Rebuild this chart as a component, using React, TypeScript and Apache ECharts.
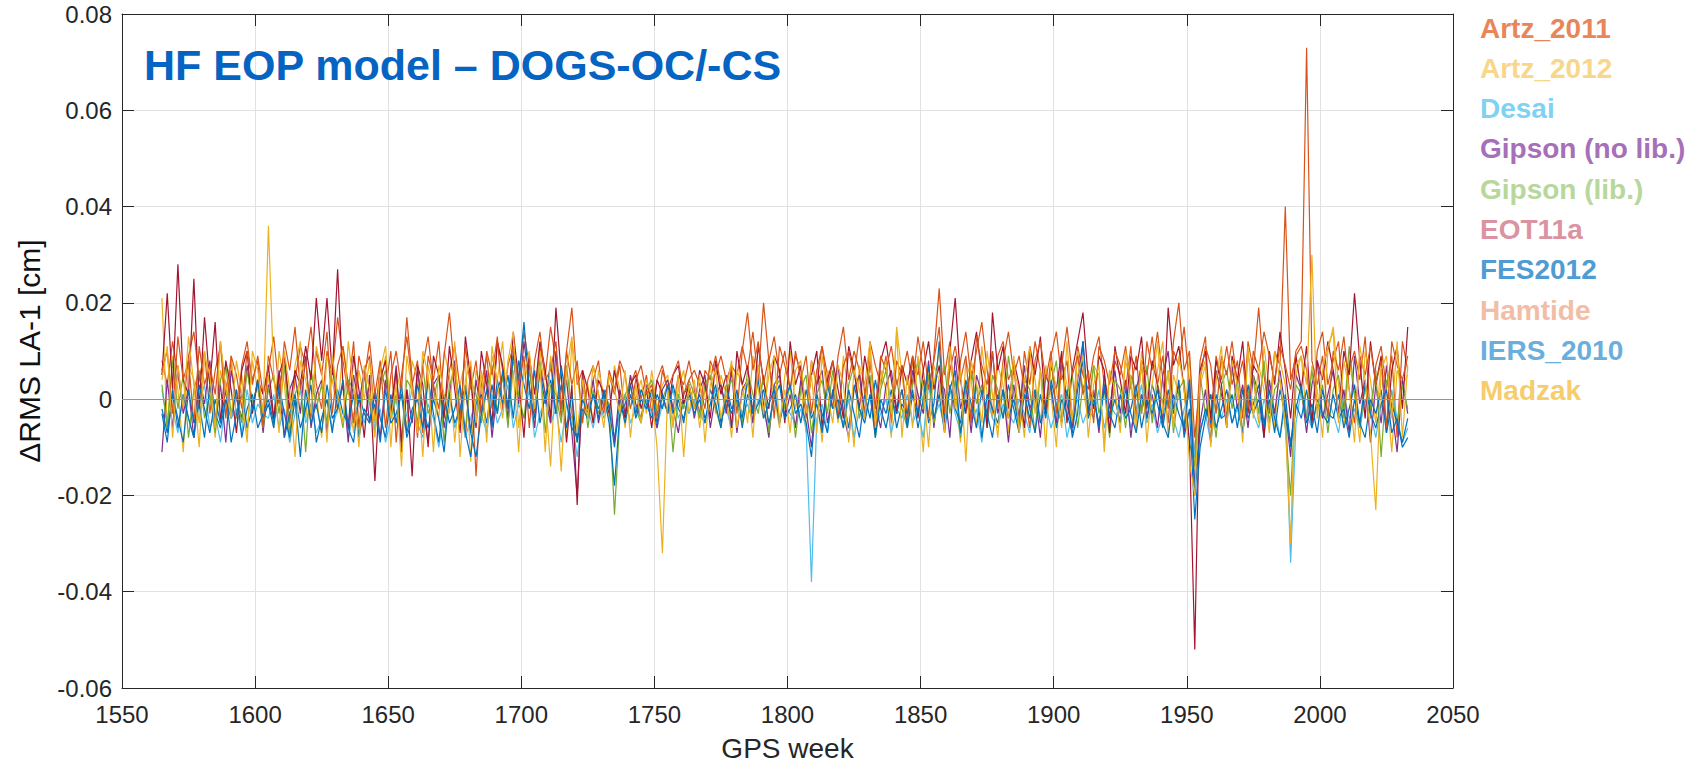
import React, { useEffect, useRef } from "react";
import * as echarts from "echarts";

// GPS weeks: first week and sampling step of the series below
const FIRST_WEEK = 1565;
const WEEK_STEP = 2;

// values in units of 0.001 cm
const artz2011 = [
  8, 3, 12, 5, -2, 9, 14, 4, 10, -3, 6, 11, 2, 8, -4, 7, 12, 3, 9, 1,
  6, 13, 2, 9, -5, 4, 11, 7, 15, 3, -2, 10, 5, 17, 8, 1, 12, -6, 6, 9,
  -4, 7, 2, 10, -9, 5, 13, 3, 8, -7, 9, 4, 12, -3, 6, 11, 2, -8, 7, -16,
  3, 9, -2, 12, 6, -5, 10, 4, 14, 7, -3, 11, 5, 15, 8, -4, 10, 19, 3, 6,
  -3, 4, 8, -2, 5, 1, 7, -4, 3, 6, 0, 5, -3, 4, 7, 2, -2, 5, 3, 8,
  2, -3, 6, 4, 9, 3, -2, 7, 5, 11, 6, 14, 4, 20, 8, 13, 5, 10, 2, 9,
  6, -4, 8, 3, 11, 5, -2, 9, 15, 4, 10, 6, -3, 12, 7, 3, 9, -5, 8, 5,
  10, 3, 13, 6, -4, 9, 23, 5, 12, -2, 8, 14, 4, 10, 16, 6, -3, 9, 12, 4,
  7, -5, 10, 3, 12, 6, -2, 9, 14, 4, 8, -6, 11, 5, 2, 9, 13, 3, -4, 8,
  5, 11, 2, 9, -3, 12, 6, 14, 4, -5, 10, 7, 15, 3, -12, 8, 13, -6, 9, 4,
  11, 3, 8, -4, 12, 6, 19, 5, -3, 10, 7, 40, 4, 9, 11, 6, -5, 10, 14, 3,
  8, 12, -2, 6, 10, 4, 13, -4, 7, 11, 2, 9, -8, 12, 6,
];
const artz2012 = [
  21, -6, 9, 2, -11, 7, 4, -5, 10, 3, -8, 6, 1, 9, -4, 5, -7, 8, 2, -3,
  5, -6, 10, 3, -9, 7, 12, -4, 6, 1, -8, 9, 4, -3, 11, 2, -7, 6, 0, 8,
  -5, 3, 9, -10, 6, 1, -6, 8, 4, -12, 7, 2, -4, 10, 5, -9, 3, 8, -13, 6,
  2, -7, 9, 4, 12, -5, 6, -11, 8, 3, -6, 10, 1, -14, 7, 4, -8, 12, 5, -4,
  3, -5, 6, 1, -4, 7, 2, -6, 5, 0, 4, -3, 6, -2, 3, 5, -5, 2, 6, -3,
  4, -6, 2, 7, -3, 5, 1, -8, 6, 3, -5, 9, 2, -4, 8, 1, -6, 5, 10, -2,
  3, -7, 8, 2, -9, 6, 4, -5, 9, 1, -10, 7, 3, 12, -4, 6, 2, -8, 15, 5,
  -3, 8, 1, -11, 6, 3, 10, -5, 7, 2, -9, 8, 4, -6, 11, 1, -4, 7, 3, -7,
  6, 2, -8, 9, 4, -5, 7, 1, -10, 8, 3, -6, 10, 2, -4, 7, 5, -9, 6, 1,
  -5, 8, 3, -7, 10, 2, -4, 6, 12, -8, 5, 1, -6, 9, -14, 3, 7, -9, 4, 8,
  -3, 6, 1, -7, 9, 4, -5, 11, 2, -6, 8, 3, -32, 5, 9, -4, 7, 2, -8, 10,
  15, 3, -6, 8, 1, -9, 10, 4, -5, 7, 2, -11, 6, 3, 5,
];
const desai = [
  2, -5, -2, -7, 1, -4, -8, -1, 3, -6, -3, -9, 0, -4, -2, -7, 2, -5, -1, -3,
  -4, 1, -6, -2, -9, -3, 2, -5, -1, -7, -4, 0, -6, -2, 3, -8, -3, -1, -5, 1,
  -6, -2, -9, -4, 0, -7, -3, 2, -5, -8, -1, -4, -10, -3, 1, -6, -2, -8, -4, 0,
  -3, -7, 1, -5, -2, 3, -6, -1, -4, 2, -8, -3, 0, -5, -2, -9, -1, -4, -12, -3,
  -2, -6, 0, -4, -1, -8, -3, 1, -5, -2, -4, 0, -3, -6, -1, -2, 2, -4, -1, -3,
  0, -3, -5, -1, 2, -4, -2, -6, 1, -3, -1, -5, 0, -2, -7, 3, -4, -1, -3, -5,
  -2, -6, -38, -4, -1, -7, 2, -3, -5, 0, -8, -2, -4, 1, -6, -3, 0, -7, -2, -4,
  1, -5, -2, -8, 3, -4, -1, -6, 2, -3, -7, 0, -5, -2, -9, 1, -4, -6, -1, -3,
  -5, 0, -3, -7, 2, -4, -1, -6, -2, 1, -8, -3, 0, -5, -2, -4, 2, -6, -1, -3,
  -4, 0, -6, -2, 3, -5, -1, -7, -3, 0, -4, -8, -2, 1, -12, -6, -3, -9, -1, -4,
  0, -5, -2, -7, 1, -3, -6, 0, -4, -2, -8, -1, -34, -5, 2, -3, -6, -1, -4, 0,
  -3, -7, 1, -4, -2, -6, 0, -3, -8, -1, -5, 2, -4, -9, -6,
];
const gipsonNoLib = [
  -11, 4, -6, 7, -3, 2, -8, 5, -1, 8, -5, 3, -9, 6, 0, -4, 7, -2, 4, -7,
  3, -4, 6, -8, 2, 5, -3, 9, -6, 1, 4, -7, 7, -2, 3, -9, 5, -1, 6, -5,
  1, -8, 4, -3, 7, -11, 2, -5, 6, -2, -9, 3, 5, -6, 1, 8, -4, 2, -7, 4,
  -3, 6, -8, 2, 5, -4, 9, -1, 12, 3, -6, 7, 1, -5, 10, -2, 4, -7, -20, 3,
  -2, 4, -5, 1, 3, -9, 2, -3, 5, -1, -4, 3, 0, -6, 2, 4, -2, -7, 1, 3,
  -4, 2, 5, -6, 1, 3, -3, 6, -7, 2, 4, -5, 7, -1, -8, 3, 5, -4, 1, -6,
  4, -2, -10, 3, 6, -5, 1, 7, -3, -8, 2, 5, -4, 8, -1, -6, 3, 6, -2, 2,
  -5, 6, 1, -3, 8, -6, 4, 2, -8, 9, -2, 3, -7, 5, 1, -4, 10, -3, 2, -9,
  3, -4, 7, -2, 1, -8, 5, 2, -5, 9, -1, -6, 4, 12, -3, 2, -7, 5, -2, 6,
  -3, 4, -8, 2, 7, -4, 1, -6, 5, 10, -2, 3, -7, 4, -18, -5, 2, -9, 6, 1,
  -4, 7, -2, 3, -6, 5, 1, -8, 4, -3, 6, -2, -12, 5, 2, -7, 3, 8, -4, 1,
  6, -3, 2, -7, 9, -1, 4, -9, 3, -5, 7, -2, -11, 4, -3,
];
const gipsonLib = [
  3, -6, 8, -2, 5, -8, 2, 6, -4, 1, -7, 4, 7, -3, 2, -5, 6, -1, 3, -6,
  2, 5, -3, 7, -7, 1, 4, -11, 6, -2, 3, -5, 8, 0, -6, 4, 2, -8, 5, -1,
  -7, 3, 6, -4, 1, -8, 4, 2, -5, 7, -3, 0, 5, -9, 3, 6, -2, -6, 4, 1,
  -5, 2, 7, -3, 5, -6, 9, 1, -4, 6, -2, 8, -7, 3, 1, -5, 7, -3, -9, 4,
  -6, 2, -3, 1, -1, -24, -4, 1, 3, -2, -5, 2, 4, -3, 0, 3, -11, 1, -2, 4,
  1, -4, 3, 5, -2, -6, 2, 4, -1, -5, 6, 1, -3, 5, -7, 2, 4, -2, 3, -8,
  2, 5, -7, 1, 4, -3, 6, -1, -6, 3, 7, -4, 1, 5, -8, 2, 6, -3, 4, -2,
  -6, 3, 8, -2, 5, -5, 1, 7, -3, 4, -8, 2, 6, -1, 3, -6, 5, 2, -4, 9,
  1, -5, 4, 2, -7, 6, -2, 3, 8, -4, 1, 5, -6, 3, -1, 7, -3, 2, -8, 4,
  2, -6, 5, 1, -3, 7, -5, 3, -1, 6, -7, 2, 4, -9, -14, 5, -3, 1, -8, 3,
  6, -2, 4, -7, 1, 5, -3, 8, -5, 2, 4, -6, -20, 3, 1, -4, 6, -2, 3, -7,
  2, 5, -4, 11, 1, -6, 3, -2, 6, -12, 4, 1, -5, 3, -2,
];
const eot11a = [
  5, 22, 2, 28, 4, 1, 25, -2, 17, 3, 16, -5, 8, 2, -7, 6, 10, -3, 4, 1,
  7, -4, 5, 9, -2, 6, 3, 11, 4, 21, 8, 21, 5, 27, 3, -6, 9, 2, -8, 5,
  -17, 4, 8, -3, 6, -9, 2, -16, 7, 3, -10, 9, 5, -4, 11, 2, -7, 13, 4, -6,
  10, 3, -5, 12, 7, -2, 14, 4, -8, 9, 1, 12, 6, -4, 19, 5, -9, 3, -22, 6,
  2, -5, 4, 1, -3, 6, 0, -4, 3, 5, -2, 2, -6, 4, 1, -3, 5, 7, -1, 3,
  -2, 6, 3, -4, 8, 1, 5, -6, 10, 3, 7, -3, 11, 4, -2, 9, 6, -5, 12, 3,
  7, -3, 5, 10, -6, 4, 8, 2, -4, 11, 6, -2, 9, 3, -7, 8, 12, 4, -3, 7,
  3, 9, -4, 6, 12, 2, 7, -5, 10, 21, 4, -3, 8, 14, 5, -6, 18, 6, 11, -2,
  8, 3, -6, 11, 5, 13, -3, 7, 2, 10, -5, 6, 12, 18, 4, -2, 9, 6, -7, 11,
  4, -3, 9, 6, 13, -2, 8, 3, -5, 19, 7, 11, 2, -9, -52, 6, 10, -4, 8, 3,
  -6, 9, 4, 12, -3, 7, 5, -8, 10, 3, 14, 6, -4, 9, 2, 11, -5, 8, 4, 12,
  6, -3, 10, 5, 22, 8, -4, 12, 3, 9, -7, 6, 11, -2, 15,
];
const fes2012 = [
  -3, -9, 2, -6, 1, -4, -8, 3, -2, -7, 0, -5, 2, -9, -3, 1, -6, -2, 4, -4,
  -1, -6, 3, -3, -8, 0, -12, 2, -5, -1, -7, 3, -4, -2, 4, -6, -9, 1, -3, -5,
  2, -4, -8, 1, -5, 3, -7, -2, 0, -6, 4, -3, -9, 1, -5, -2, 3, -7, -12, -1,
  1, -5, 3, -3, 6, -2, 9, 4, 16, 2, -4, 6, -1, 8, -3, 3, -6, 1, -9, -2,
  -4, 1, -2, 1, -5, -18, -3, -1, 3, -4, 0, -2, 2, -5, 1, -3, 3, -2, -4, 1,
  -3, 0, -5, 2, -1, -6, 3, -2, 0, -4, 4, -3, -1, 2, -5, 0, 3, -4, -2, 1,
  -5, 2, -4, -1, -7, 3, -2, 0, -6, 2, -3, -8, 1, -4, 4, -2, -6, 0, -3, 2,
  -6, 1, -3, 4, -5, -1, 12, -4, 2, 6, -7, 0, -3, 3, -8, 1, -2, -5, 2, -4,
  0, -6, 3, -2, -7, 1, -4, 4, -1, -5, 2, -8, -3, 12, -2, 1, -6, 3, -4, 0,
  -5, 2, -3, -7, 1, -4, 3, -1, -6, 2, -3, 4, -8, -2, -25, -10, -4, 1, -6, -2,
  2, -5, -1, -7, 3, -3, 0, -6, 2, -4, -8, 1, -10, -2, 3, -5, -1, -7, 2, -3,
  -4, 1, -6, -2, 3, -5, -8, 0, -3, 2, -7, -1, -5, -9, -4,
];
const hamtide = [
  6, 10, -3, 13, 4, 8, -5, 11, 3, 7, 1, 12, -4, 9, 5, -2, 10, 4, 8, -6,
  9, 4, -1, 12, 6, 15, 2, 8, -4, 10, 5, 14, -3, 7, 11, 3, -5, 9, 4, 12,
  1, 8, -6, 5, 10, 2, 17, 4, -8, 7, 13, 3, -2, 9, 18, 5, -5, 11, 2, 8,
  -3, 10, 5, 13, -2, 7, 11, 3, 9, -6, 8, 14, 4, 6, 12, -2, 10, 3, 8, -5,
  4, 7, 1, -3, 6, 2, 8, 5, -2, 4, 7, 1, 3, -4, 6, 2, 5, 8, 1, 4,
  6, 3, -2, 8, 5, 9, 4, 7, -3, 10, 18, 6, 12, 3, 9, -4, 11, 7, 2, 10,
  4, 9, -3, 6, 11, 2, 8, -4, 7, 10, 5, 13, 1, 8, -2, 9, 6, 11, 3, 7,
  -4, 9, 5, 12, 2, 8, 15, -3, 6, 11, 4, 9, -5, 13, 7, 3, 10, -2, 8, 14,
  5, 9, 2, -6, 8, 12, 4, 10, -3, 7, 15, 5, 9, 1, 6, -5, 11, 8, 3, 10,
  7, 2, 11, -4, 8, 5, 13, 3, 9, -2, 12, 20, 6, 10, -8, 4, 11, 7, -3, 9,
  5, 12, 3, 8, -2, 10, 6, 14, 9, 4, 11, 7, 2, 10, 12, 73, 8, 3, 9, -4,
  10, 6, 13, 2, -5, 9, 5, 11, 3, 8, -6, 12, 7, 4, 9,
];
const iers2010 = [
  -2, -7, 1, -4, -9, 2, -5, -1, -8, 3, -3, -6, 0, -4, 2, -8, -2, 1, -6, -3,
  0, -5, 2, -8, -3, 1, -6, -2, 3, -9, -4, 0, -7, 2, -3, -5, 1, -8, -2, -4,
  -1, -9, 2, -5, -3, 1, -8, -4, 3, -2, -6, 0, -4, -11, 1, -5, -2, 3, -7, -12,
  -3, 2, -6, 4, -1, 5, -4, 8, 3, -2, 6, -5, 1, 4, -3, 7, -1, -6, -8, 0,
  -3, 1, -4, 2, -2, -10, 0, -5, 1, -3, 2, -1, -4, 1, -2, 3, -3, 0, -5, 2,
  -2, 1, -4, -1, 3, -5, 0, -3, 2, -6, 1, -2, 4, -4, -1, 2, -5, 0, 3, -3,
  -1, -5, -12, 1, -3, -7, 2, -4, 0, -6, 3, -2, -5, 1, -8, 0, -3, 2, -6, -1,
  -3, 2, -6, 0, 7, -4, 1, -7, 3, -2, -5, 4, -1, -6, 2, -3, -8, 1, -4, 3,
  -2, -7, 1, -4, 2, -5, -1, 3, -6, 0, -3, -7, 2, 8, -4, 0, -5, 2, -3, -6,
  1, -4, -2, 3, -6, 0, -3, 2, -5, -8, 1, -3, -6, 4, -20, -7, -2, -5, 1, -4,
  -3, 1, -6, 2, -4, -1, 3, -5, 0, -7, 2, -3, -9, -1, -4, 2, -6, 0, -3, -5,
  1, -4, -2, -8, 0, -5, 3, -3, -6, -1, 2, -7, -4, -10, -8,
];
const madzak = [
  4, 11, -8, 7, -2, 13, 3, -10, 9, 5, -6, 12, 2, -4, 8, 1, -9, 10, 6, -3,
  36, 5, -7, 10, 2, -12, 8, 4, -3, 11, 6, -9, 9, 1, -5, 12, 3, -10, 7, 2,
  -8, 6, 11, -4, 3, -14, 9, 2, -7, 10, 5, -11, 7, 1, -3, 12, -12, 4, 8, -5,
  6, -9, 11, 3, -4, 8, 14, -6, 5, 10, -2, 7, -11, 9, 2, -15, 6, 13, -7, 4,
  -4, 7, 1, -6, 5, 2, -3, 6, -8, 3, -5, 4, 1, -10, -32, 2, -6, 5, -12, 3,
  -2, 5, -9, 3, 6, -4, 2, 8, -6, 1, 4, -8, 7, -3, 5, 9, -5, 2, -7, 6,
  8, -3, 5, -7, 9, 1, -5, 7, 3, -9, 6, 2, -4, 10, -6, 4, 8, -3, 14, -8,
  5, -6, 9, 2, -10, 7, 4, -7, 11, -2, 6, -13, 8, 3, -5, 10, 1, -8, 7, -4,
  9, -7, 4, 11, -3, 6, -10, 8, 2, -6, 12, -4, 5, 9, -8, 3, 7, -11, 6, 2,
  -7, 10, 4, -5, 8, -9, 3, 12, -3, 6, -6, 9, 2, -13, -20, 5, 8, -10, 4, 11,
  -6, 8, 3, -9, 11, -4, 7, 2, -7, 10, 4, -5, -30, 7, 9, 3, 30, -4, 6, 11,
  14, -5, 8, 2, -9, 11, 4, -7, -23, 6, 9, -4, 12, -8, 7,
];

const SERIES_NAMES = [
  "Artz_2011", "Artz_2012", "Desai", "Gipson (no lib.)", "Gipson (lib.)",
  "EOT11a", "FES2012", "Hamtide", "IERS_2010", "Madzak",
];
const SERIES_VALUES = [
  artz2011, artz2012, desai, gipsonNoLib, gipsonLib,
  eot11a, fes2012, hamtide, iers2010, madzak,
];
const LINE_COLORS = [
  "#D95319", "#EDB120", "#4DBEEE", "#7E2F8E", "#77AC30",
  "#A2142F", "#0072BD", "#D95319", "#0072BD", "#EDB120",
];
const LEGEND_COLORS = [
  "#E8865A", "#F8D68A", "#7FD2F2", "#A670B8", "#B7D79C",
  "#DB93A2", "#4F9BD3", "#F2BDA4", "#6AAEDB", "#F7CC6C",
];

const TITLE = "HF EOP model \u2013 DOGS-OC/-CS";
const X_NAME = "GPS week";
const Y_NAME = "\u0394RMS LA-1 [cm]";

const FONT = '"Liberation Sans", Arial, Helvetica, sans-serif';

export default function App() {
  const ref = useRef<HTMLDivElement | null>(null);

  useEffect(() => {
    if (!ref.current) return;
    const chart = echarts.init(ref.current, undefined, { renderer: "svg" });

    const axisColor = "#262626";
    const gridLeft = 122;
    const gridTop = 14;
    const gridW = 1331;
    const gridH = 676;

    const series: any[] = SERIES_VALUES.map((vals, k) => ({
      name: SERIES_NAMES[k],
      type: "line",
      data: vals.map((v, i) => [FIRST_WEEK + i * WEEK_STEP, v / 1000]),
      symbol: "none",
      showSymbol: false,
      lineStyle: { color: LINE_COLORS[k], width: 1.2 },
      itemStyle: { color: LINE_COLORS[k] },
      emphasis: { disabled: true },
      ...(k === 0
        ? {
            markLine: {
              silent: true,
              symbol: ["none", "none"],
              label: { show: false },
              lineStyle: { color: "#9a938a", type: "solid", width: 1 },
              data: [{ yAxis: 0 }],
            },
          }
        : {}),
    }));

    const legendItems = SERIES_NAMES.map((name, k) => ({
      type: "text",
      x: 1480,
      y: 28 + k * 40.3,
      style: {
        text: name,
        fill: LEGEND_COLORS[k],
        fontSize: 28,
        fontWeight: "bold",
        fontFamily: FONT,
        align: "left",
        verticalAlign: "middle",
      },
    }));

    const option: any = {
      animation: false,
      backgroundColor: "#ffffff",
      textStyle: { fontFamily: FONT },
      grid: { left: gridLeft, top: gridTop, width: gridW, height: gridH, containLabel: false },
      xAxis: [
        {
          type: "value",
          min: 1550,
          max: 2050,
          interval: 50,
          position: "bottom",
          name: X_NAME,
          nameLocation: "middle",
          nameGap: 46,
          nameTextStyle: { fontSize: 28, color: axisColor, fontFamily: FONT },
          axisLine: { show: true, onZero: false, lineStyle: { color: axisColor, width: 1 } },
          axisTick: { show: true, inside: true, length: 12, lineStyle: { color: axisColor } },
          axisLabel: {
            fontSize: 24,
            color: axisColor,
            margin: 14,
            fontFamily: FONT,
            formatter: (v: number) => String(Math.round(v)),
          },
          splitLine: { show: true, lineStyle: { color: "#e1e1e1", width: 1 } },
        },
        {
          type: "value",
          min: 1550,
          max: 2050,
          interval: 50,
          position: "top",
          axisLine: { show: true, onZero: false, lineStyle: { color: axisColor, width: 1 } },
          axisTick: { show: true, inside: true, length: 12, lineStyle: { color: axisColor } },
          axisLabel: { show: false },
          splitLine: { show: false },
        },
      ],
      yAxis: [
        {
          type: "value",
          min: -0.06,
          max: 0.08,
          interval: 0.02,
          position: "left",
          name: Y_NAME,
          nameLocation: "middle",
          nameGap: 78,
          nameRotate: 90,
          nameTextStyle: { fontSize: 30, color: "#111111", fontFamily: FONT },
          axisLine: { show: true, onZero: false, lineStyle: { color: axisColor, width: 1 } },
          axisTick: { show: true, inside: true, length: 12, lineStyle: { color: axisColor } },
          axisLabel: {
            fontSize: 24,
            color: axisColor,
            margin: 10,
            fontFamily: FONT,
            formatter: (v: number) => (Math.abs(v) < 1e-9 ? "0" : v.toFixed(2)),
          },
          splitLine: { show: true, lineStyle: { color: "#e1e1e1", width: 1 } },
        },
        {
          type: "value",
          min: -0.06,
          max: 0.08,
          interval: 0.02,
          position: "right",
          axisLine: { show: true, onZero: false, lineStyle: { color: axisColor, width: 1 } },
          axisTick: { show: true, inside: true, length: 12, lineStyle: { color: axisColor } },
          axisLabel: { show: false },
          splitLine: { show: false },
        },
      ],
      series,
      graphic: [
        {
          type: "text",
          x: 144,
          y: 65,
          z: 100,
          style: {
            text: TITLE,
            fill: "#0563C1",
            fontSize: 43,
            fontWeight: "bold",
            fontFamily: FONT,
            align: "left",
            verticalAlign: "middle",
          },
        },
        ...legendItems,
      ],
    };

    chart.setOption(option);
    return () => {
      chart.dispose();
    };
  }, []);

  return (
    <div
      ref={ref}
      style={{ width: 1699, height: 767, position: "absolute", left: 0, top: 0 }}
    />
  );
}
